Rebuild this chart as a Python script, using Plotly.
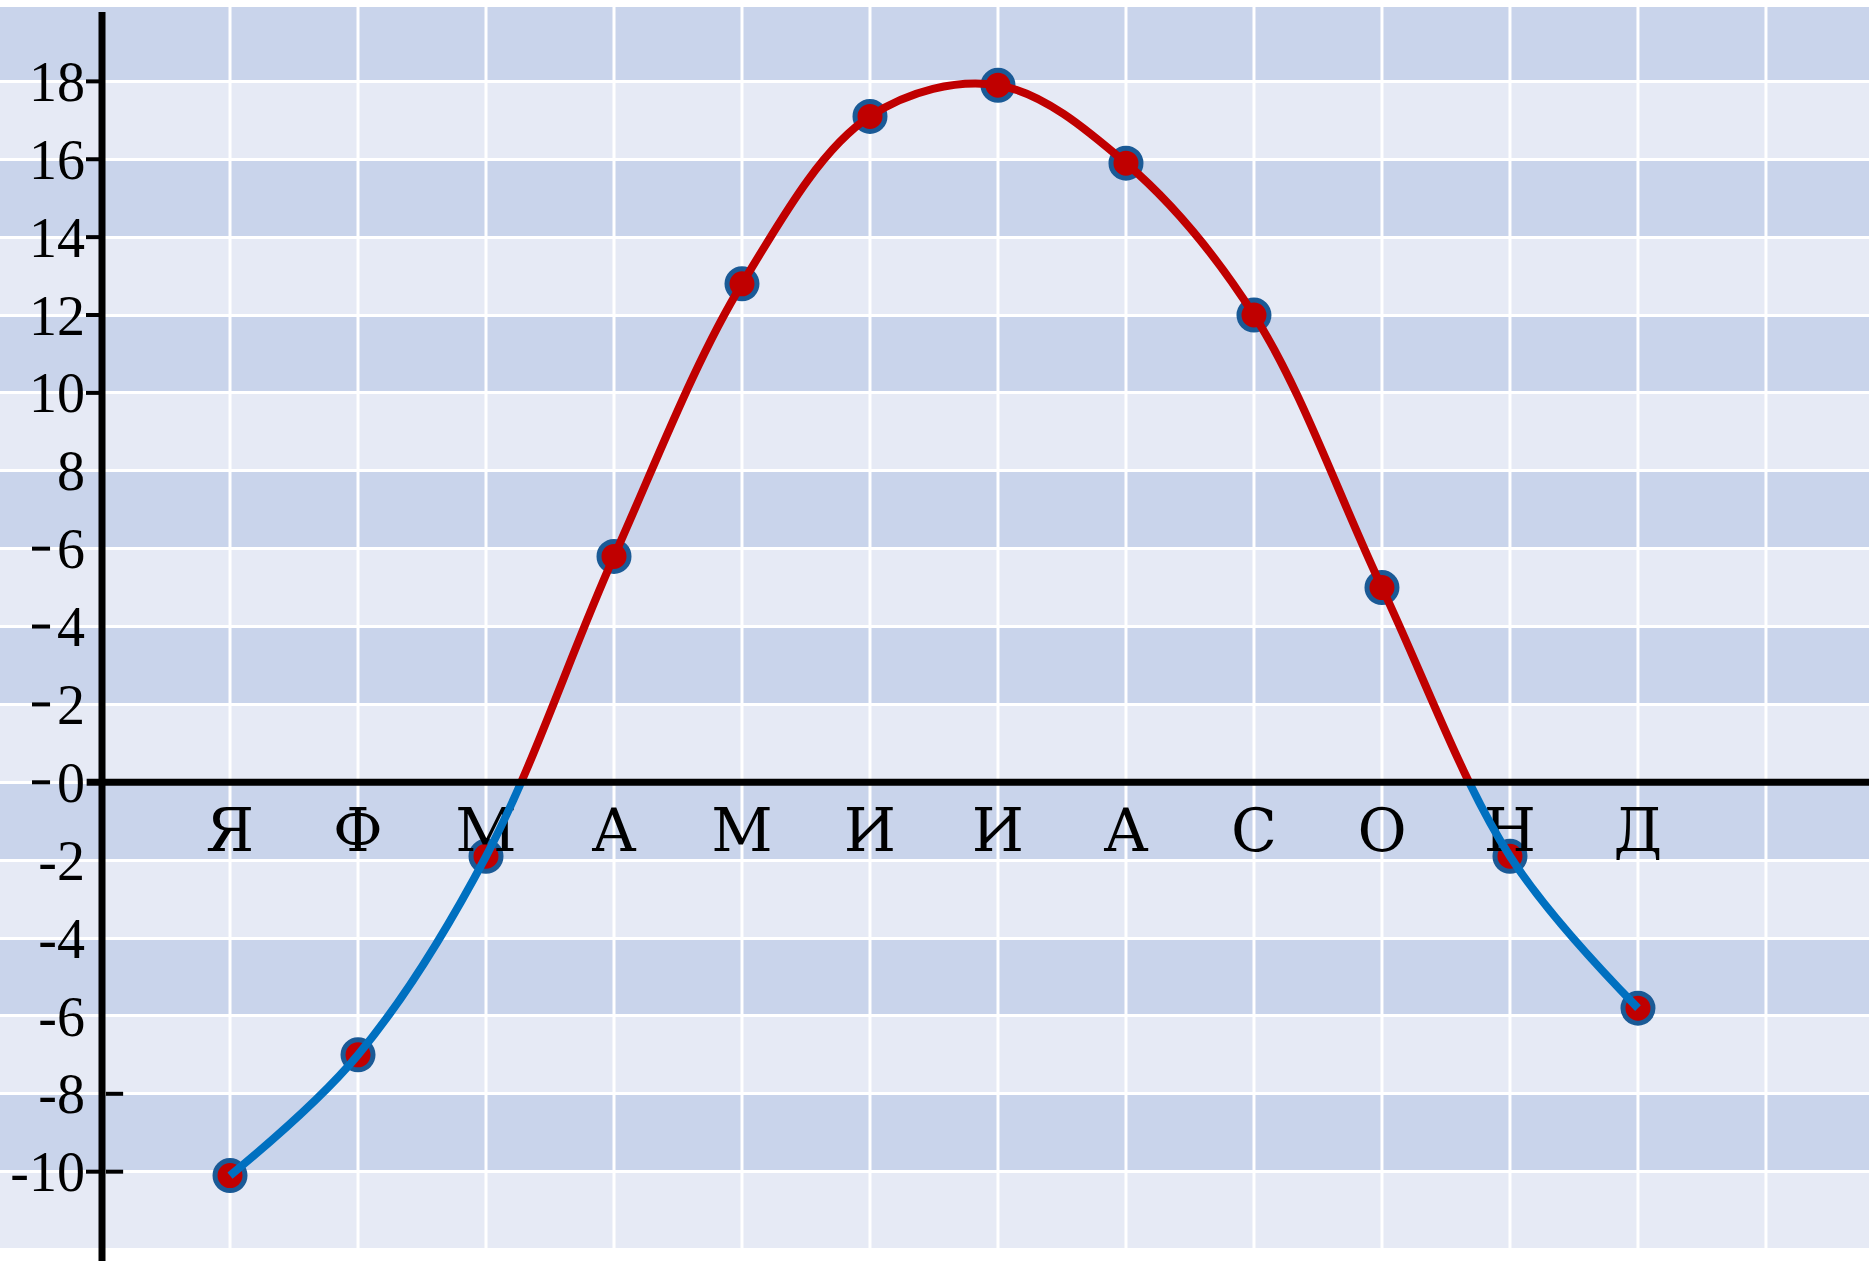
import plotly.graph_objects as go

# ---------------- data ----------------
MONTHS = ["Я", "Ф", "М", "А", "М", "И", "И", "А", "С", "О", "Н", "Д"]
MONTH_POS = list(range(1, 13))
TEMPS = [-10.1, -7.0, -1.9, 5.8, 12.8, 17.1, 17.9, 15.9, 12.0, 5.0, -1.9, -5.8]

Y_TICKS = list(range(-10, 19, 2))
Y_TICK_TEXT = [str(v) for v in Y_TICKS]
X_GRID = list(range(1, 14))
BAND_EDGES = list(range(-12, 21, 2))
DASH_VALUES = [0, 2, 4, 6]          # short dashes drawn left of these labels
LEFT_TICKS = [18, 16, 14, 12, 10, -10]
RIGHT_TICKS = [-8, -10]

# ---------------- styles ----------------
W, H = 1869, 1261
M_T, M_B = 7, 13
Y_RANGE = [-11.96, 19.91]
X_RANGE = [-0.797, 13.805]
DARK = "#C9D4EB"
LIGHT = "#E6EAF5"
RED = "#C00000"
BLUE = "#0070C0"
RING = "#1A5A96"
NUM_FONT = dict(family="Liberation Serif", size=56, color="black")
LET_FONT = dict(family="DejaVu Serif", size=60, color="black")

zero_frac = (0 - Y_RANGE[0]) / (Y_RANGE[1] - Y_RANGE[0])
axis_pos = (0 - X_RANGE[0]) / (X_RANGE[1] - X_RANGE[0])

fig = go.Figure()

# markers (main subplot, drawn first so the lines lie on top)
fig.add_trace(go.Scatter(
    x=MONTH_POS, y=TEMPS, mode="markers", xaxis="x", yaxis="y",
    marker=dict(size=30, color=RED, line=dict(color=RING, width=5)),
    cliponaxis=False, showlegend=False, hoverinfo="skip"))

# blue part of the curve: clipped to the negative half (lower subplot)
fig.add_trace(go.Scatter(
    x=MONTH_POS, y=TEMPS, mode="lines", xaxis="x", yaxis="y2",
    line=dict(color=BLUE, width=8, shape="spline", simplify=False),
    showlegend=False, hoverinfo="skip"))

# red part of the curve: clipped to the positive half (upper subplot)
fig.add_trace(go.Scatter(
    x=MONTH_POS, y=TEMPS, mode="lines", xaxis="x", yaxis="y3",
    line=dict(color=RED, width=8, shape="spline", simplify=False),
    showlegend=False, hoverinfo="skip"))

shapes = []
# alternating horizontal bands
for i in range(len(BAND_EDGES) - 1):
    lo = max(BAND_EDGES[i], Y_RANGE[0])
    hi = min(BAND_EDGES[i + 1], Y_RANGE[1])
    color = DARK if (BAND_EDGES[i] // 2) % 2 == 1 else LIGHT
    shapes.append(dict(type="rect", xref="paper", yref="y", x0=0, x1=1, y0=lo, y1=hi,
                       fillcolor=color, line=dict(width=0), layer="below"))
# vertical white grid lines
for gx in X_GRID:
    shapes.append(dict(type="line", xref="x", yref="paper", x0=gx, x1=gx, y0=0, y1=1,
                       line=dict(color="white", width=3), layer="below"))
# zero line
shapes.append(dict(type="line", xref="x", yref="y", x0=-0.12, x1=X_RANGE[1], y0=0, y1=0,
                   line=dict(color="black", width=7), layer="above"))
# vertical axis line
shapes.append(dict(type="line", xref="x", yref="paper", x0=0, x1=0, y0=-0.011, y1=0.996,
                   line=dict(color="black", width=7), layer="above"))
# small tick marks
for v in LEFT_TICKS:
    shapes.append(dict(type="line", xref="x", yref="y", x0=-0.125, x1=-0.02, y0=v, y1=v,
                       line=dict(color="black", width=4), layer="above"))
for v in RIGHT_TICKS:
    shapes.append(dict(type="line", xref="x", yref="y", x0=0.03, x1=0.165, y0=v, y1=v,
                       line=dict(color="black", width=4), layer="above"))
for v in DASH_VALUES:
    shapes.append(dict(type="line", xref="x", yref="y", x0=-0.547, x1=-0.406, y0=v, y1=v,
                       line=dict(color="black", width=4), layer="above"))

fig.update_layout(
    width=W, height=H,
    margin=dict(l=0, r=0, t=M_T, b=M_B, pad=0),
    template="none",
    paper_bgcolor="white",
    plot_bgcolor="rgba(0,0,0,0)",
    showlegend=False,
    shapes=shapes,
    xaxis=dict(
        domain=[0, 1], range=X_RANGE, fixedrange=True,
        tickvals=MONTH_POS, ticktext=MONTHS, tickfont=LET_FONT,
        showgrid=False, zeroline=False, showline=False, ticks="",
        anchor="free", position=zero_frac, ticklabelstandoff=8, automargin=False),
    yaxis=dict(
        domain=[0, 1], range=Y_RANGE, fixedrange=True,
        tickvals=Y_TICKS, ticktext=Y_TICK_TEXT, tickfont=NUM_FONT,
        showgrid=True, gridcolor="white", gridwidth=3,
        zeroline=False, showline=False, ticks="",
        anchor="free", position=axis_pos, ticklabelstandoff=17, automargin=False),
    yaxis2=dict(
        domain=[0, zero_frac], range=[Y_RANGE[0], 0], anchor="x", visible=False,
        showgrid=False, zeroline=False, fixedrange=True),
    yaxis3=dict(
        domain=[zero_frac, 1], range=[0, Y_RANGE[1]], anchor="x", visible=False,
        showgrid=False, zeroline=False, fixedrange=True),
)

fig.write_html("out.html", config={"displayModeBar": False},
               post_script="document.body.style.margin='0px';")
